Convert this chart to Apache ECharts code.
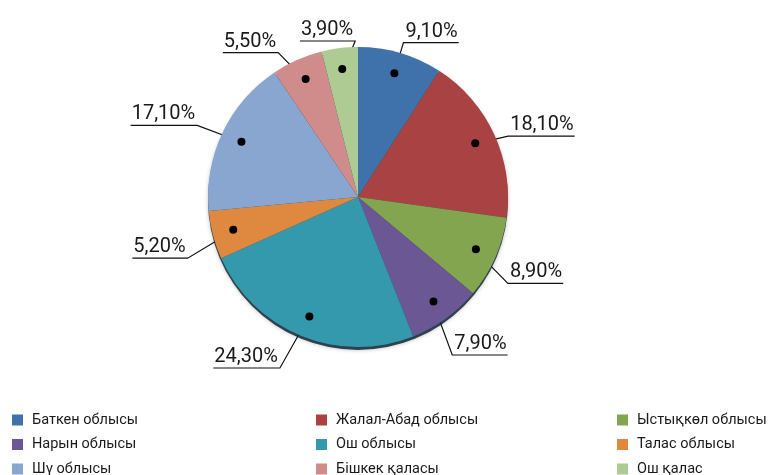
<!DOCTYPE html>
<html>
<head>
<meta charset="utf-8">
<script src="https://cdn.jsdelivr.net/npm/echarts@6/dist/echarts.min.js"></script>
<style>
  html, body { margin: 0; padding: 0; background: #fff; }
  #main { width: 773px; height: 475px; }
</style>
</head>
<body>
<div id="main"></div>
<script>
// данные
var regions = ['Баткен облысы', 'Жалал-Абад облысы', 'Ыстықкөл облысы', 'Нарын облысы', 'Ош облысы',
  'Талас облысы', 'Шү облысы', 'Бішкек қаласы', 'Ош қалас'];
var shares = [9.1, 18.1, 8.9, 7.9, 24.3, 5.2, 17.1, 5.5, 3.9];
var colors = ['#3f72ab', '#a94343', '#84a550', '#6c5795', '#3599ad', '#df883f', '#88a6d0', '#cf8c8b', '#adcb92'];

// legend columns (rows go across)
var legendCols = [
  [regions[0], regions[3], regions[6]],
  [regions[1], regions[4], regions[7]],
  [regions[2], regions[5], regions[8]]
];
var legendLeft = [12, 316, 617];

// layout of pie and its callouts
var CX = 358, CY = 197, R = 150, DOT_R = 126;
var labelReach = [161, 162, 173, 184, 188, 181, 176, 165, 156]; // elbow distance from centre
var labelTurn = [0, 2.6, 6, 5, 2.4, -5, -1.4, -5, 6];            // elbow angle shift, degrees
var FONT = "Roboto, 'Noto Sans', sans-serif";

var total = shares.reduce(function (a, b) { return a + b; }, 0);
var midAngles = [];
var acc = 0;
shares.forEach(function (v) {
  midAngles.push((acc + v / 2) / total * 2 * Math.PI);
  acc += v;
});
function polar(r, a) {
  return [CX + r * Math.sin(a), CY - r * Math.cos(a)];
}

var pieData = regions.map(function (name, i) {
  return { name: name, value: shares[i], itemStyle: { color: colors[i] } };
});

var chart = echarts.init(document.getElementById('main'));
var option = {
  animation: false,
  color: colors,
  legend: legendCols.map(function (col, i) {
    return {
      orient: 'vertical',
      left: legendLeft[i],
      top: 410,
      width: 250,
      height: 90,
      padding: 0,
      itemWidth: 11,
      itemHeight: 11,
      itemGap: 4.5,
      icon: 'rect',
      selectedMode: false,
      data: col,
      textStyle: { fontFamily: FONT, fontSize: 14.5, color: '#1a1a1a', lineHeight: 20, padding: [0, 0, 0, 4], overflow: 'none' }
    };
  }),
  series: [
    {
      // тень снизу
      type: 'pie',
      silent: true,
      center: [CX, CY + 3],
      radius: R,
      label: { show: false },
      labelLine: { show: false },
      itemStyle: { color: 'rgba(15,40,55,0.85)', borderWidth: 0, shadowBlur: 4, shadowColor: 'rgba(0,0,0,0.3)' },
      data: [{ name: '', value: 1 }]
    },
    {
      type: 'pie',
      center: [CX, CY],
      radius: R,
      startAngle: 90,
      clockwise: true,
      avoidLabelOverlap: false,
      silent: true,
      data: pieData,
      itemStyle: { borderWidth: 0 },
      label: {
        show: true,
        position: 'outside',
        fontFamily: FONT,
        fontSize: 20,
        color: '#1a1a1a',
        formatter: function (p) { return p.value.toFixed(2).replace('.', ',') + '%'; }
      },
      labelLine: { show: true, lineStyle: { color: '#111', width: 1.2 } },
      labelLayout: function (p) {
        var a = midAngles[p.dataIndex];
        var dot = polar(DOT_R, a);
        var elbow = polar(labelReach[p.dataIndex], a + labelTurn[p.dataIndex] * Math.PI / 180);
        var right = elbow[0] > CX + 1;
        var w = p.labelRect.width;
        var end = [elbow[0] + (right ? w + 3 : -w - 3), elbow[1]];
        return {
          x: right ? elbow[0] + 2 : elbow[0] - 2,
          y: elbow[1] - 1,
          align: right ? 'left' : 'right',
          verticalAlign: 'bottom',
          labelLinePoints: [dot, elbow, end]
        };
      }
    },
    {
      // точки
      type: 'pie',
      center: [CX, CY],
      radius: [2 * DOT_R - R, R],
      startAngle: 90,
      silent: true,
      data: pieData.map(function (d) { return { name: d.name, value: d.value, itemStyle: { color: 'rgba(0,0,0,0)', borderWidth: 0 } }; }),
      label: {
        show: true,
        position: 'inside',
        formatter: '{d|}',
        rich: { d: { width: 8, height: 8, borderRadius: 4, backgroundColor: '#000' } }
      },
      labelLine: { show: false }
    }
  ]
};
chart.setOption(option);
</script>
</body>
</html>
